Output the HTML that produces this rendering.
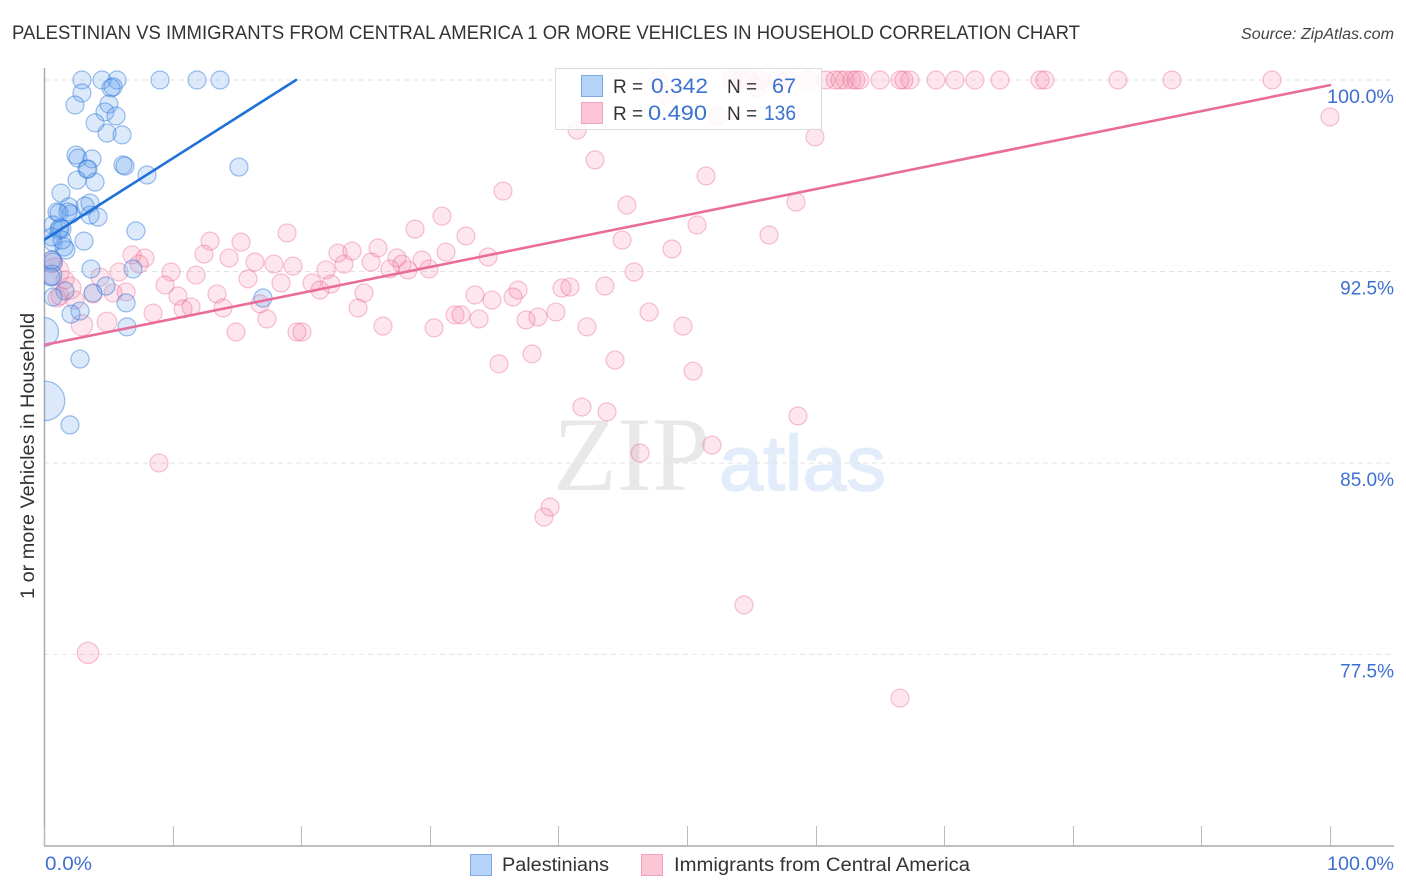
<!DOCTYPE html>
<html lang="en">
<head>
<meta charset="utf-8">
<title>Palestinian vs Immigrants from Central America Correlation Chart</title>
<style>
html,body{margin:0;padding:0;background:#fff;width:1406px;height:892px;overflow:hidden}
svg{display:block}
text{font-family:"Liberation Sans",sans-serif}
</style>
</head>
<body>
<svg id="chart" width="1406" height="892" viewBox="0 0 1406 892" xmlns="http://www.w3.org/2000/svg">
  <defs>
    <clipPath id="plot-clip"><rect x="44" y="60" width="1350" height="786"/></clipPath>
  </defs>
  <text x="12" y="39" font-size="19.5" fill="#333" textLength="1068" lengthAdjust="spacingAndGlyphs">PALESTINIAN VS IMMIGRANTS FROM CENTRAL AMERICA 1 OR MORE VEHICLES IN HOUSEHOLD CORRELATION CHART</text>
  <text x="1241" y="39" font-size="15.5" font-style="italic" fill="#444" textLength="153" lengthAdjust="spacingAndGlyphs">Source: ZipAtlas.com</text>

  <g id="watermark">
    <text x="553" y="490" font-size="106" fill="#e8e8e8" style="font-family:'Liberation Serif',serif" textLength="157" lengthAdjust="spacingAndGlyphs">ZIP</text>
    <text x="719" y="490" font-size="78" fill="#e3ecfa" stroke="#e3ecfa" stroke-width="1.5" style="font-family:'Liberation Sans',sans-serif" textLength="167" lengthAdjust="spacingAndGlyphs">atlas</text>
  </g>
  <g id="grid"></g>
  <g id="axes"></g>
  <g id="marks" clip-path="url(#plot-clip)"></g>

  <g>
    <rect x="555.5" y="68.5" width="266" height="61" fill="#fff" fill-opacity="0.84" stroke="#dcdcdc" stroke-width="1"/>
    <rect x="581.5" y="75.5" width="21" height="21" fill="#b5d2f8" stroke="#7fa9e3"/>
    <rect x="581.5" y="102.5" width="21" height="21" fill="#fcc6d6" stroke="#f2a3bb"/>
    <text x="613" y="93" font-size="19" fill="#333">R =</text>
    <text x="651" y="93" font-size="21" fill="#3a72d0" textLength="57" lengthAdjust="spacingAndGlyphs">0.342</text>
    <text x="727" y="93" font-size="19" fill="#333">N =</text>
    <text x="772" y="93" font-size="21" fill="#3a72d0" textLength="24" lengthAdjust="spacingAndGlyphs">67</text>
    <text x="613" y="120" font-size="19" fill="#333">R =</text>
    <text x="648" y="120" font-size="21" fill="#3a72d0" textLength="59" lengthAdjust="spacingAndGlyphs">0.490</text>
    <text x="727" y="120" font-size="19" fill="#333">N =</text>
    <text x="764" y="120" font-size="21" fill="#3a72d0" textLength="32" lengthAdjust="spacingAndGlyphs">136</text>
  </g>

  <text transform="translate(34,456) rotate(-90)" text-anchor="middle" font-size="19" fill="#333" textLength="286" lengthAdjust="spacingAndGlyphs">1 or more Vehicles in Household</text>

  <g>
    <rect x="470.5" y="854.5" width="21" height="21" fill="#b5d2f8" stroke="#7fa9e3"/>
    <text x="502" y="871" font-size="19" fill="#333" textLength="107" lengthAdjust="spacingAndGlyphs">Palestinians</text>
    <rect x="641.5" y="854.5" width="21" height="21" fill="#fcc6d6" stroke="#f2a3bb"/>
    <text x="674" y="871" font-size="19" fill="#333" textLength="296" lengthAdjust="spacingAndGlyphs">Immigrants from Central America</text>
  </g>
</svg>
<script>
// ---- chart data (percent values) ----
const palestinianX = [2.95,4.51,5.68,9.02,11.90,13.69,5.37,5.21,2.95,2.41,5.05,4.74,5.60,3.97,4.90,6.07,2.49,2.64,3.73,3.34,3.42,6.14,6.30,2.57,3.97,8.01,15.16,1.32,3.58,3.19,1.94,1.01,1.17,2.10,1.87,3.58,4.20,0.70,1.17,1.40,7.15,0.70,1.56,1.71,3.11,0.70,0.62,0.62,0.54,3.65,6.92,1.63,3.81,4.82,0.70,6.38,2.80,2.10,6.45,17.03,0.00,0.08,2.80,2.02,0.62,1.24,1.40];
const palestinianY = [100,100,100,100,100,100,99.73,99.69,99.49,99.02,99.06,98.75,98.59,98.32,97.92,97.85,97.06,96.94,96.91,96.51,96.51,96.67,96.63,96.08,96.00,96.28,96.59,95.57,95.18,95.06,95.03,94.83,94.79,94.75,94.83,94.71,94.63,94.32,94.12,94.16,94.09,93.65,93.46,93.34,93.69,92.87,92.95,92.36,92.28,92.60,92.60,91.74,91.66,91.93,91.50,91.27,90.95,90.83,90.33,91.46,90.13,87.43,89.07,86.49,93.85,94.20,93.73];
const palestinianWeight = [1,1,1,1,1,1,1,1,1,1,1,1,1,1,1,1,1,1,1,1,1,1,1,1,1,1,1,1,1,1,1,1,1,1,1,1,1,1,1,1,1,1,1,1,1,1,1,1.2,1,1,1,1,1,1,1,1,1,1,1,1,2.6,4.8,1,1,1,1,1];

const immigrantX = [47.75,53.50,54.12,54.74,55.68,57.08,57.78,59.41,60.81,61.51,61.90,62.29,62.83,63.14,63.45,65.01,66.56,66.87,67.34,69.36,70.84,72.39,74.34,77.45,77.84,83.51,87.71,95.49,48.37,55.52,52.41,41.45,59.95,100,42.85,51.48,35.69,45.33,58.48,30.95,28.85,18.90,50.78,56.38,44.95,32.81,12.91,15.32,48.83,6.84,7.85,12.44,14.39,22.86,23.95,25.97,27.45,29.39,31.26,34.53,23.33,25.43,16.41,17.88,19.36,7.39,5.83,9.88,11.82,21.93,29.94,28.30,27.84,26.90,45.88,36.86,15.86,18.43,20.84,21.46,22.32,9.41,43.62,40.28,40.90,24.88,33.51,36.47,34.84,10.42,13.45,6.38,5.37,3.81,4.35,0.86,2.02,2.41,1.01,16.80,11.43,10.81,13.92,24.42,8.48,31.96,32.43,33.83,37.48,38.41,39.81,47.05,17.34,26.36,30.33,42.22,49.69,14.93,19.67,20.06,2.95,4.90,37.95,44.40,35.38,50.47,41.83,43.78,58.63,51.94,46.35,8.94,39.35,38.88,54.43,3.42,66.56,0.62,1.24,1.63];
const immigrantY = [100,100,100,100,100,100,100,100,100,100,100,100,100,100,100,100,100,100,100,100,100,100,100,100,100,100,100,100,99.41,99.69,98.59,98.04,97.77,98.55,96.87,96.24,95.65,95.10,95.22,94.67,94.16,94.01,94.32,93.93,93.73,93.89,93.69,93.65,93.38,93.15,93.03,93.18,93.03,93.22,93.30,93.42,93.03,92.95,93.26,93.07,92.79,92.87,92.87,92.79,92.71,92.79,92.48,92.48,92.36,92.56,92.60,92.56,92.79,92.60,92.48,91.77,92.21,92.05,92.05,91.77,92.01,91.97,91.93,91.85,91.89,91.66,91.58,91.50,91.38,91.54,91.62,91.70,91.66,91.62,92.28,92.48,91.85,91.38,91.46,91.23,91.11,91.03,91.07,91.07,90.87,90.80,90.80,90.64,90.60,90.72,90.91,90.91,90.64,90.36,90.29,90.33,90.36,90.13,90.13,90.13,90.40,90.52,89.27,89.03,88.88,88.60,87.19,87.00,86.84,85.70,85.39,85.00,83.27,82.88,79.44,77.56,75.79,92.87,91.54,92.17];
const immigrantWeight = [1,1,1,1,1,1,1,1,1,1,1,1,1,1,1,1,1,1,1,1,1,1,1,1,1,1,1,1,1,1,1,1,1,1,1,1,1,1,1,1,1,1,1,1,1,1,1,1,1,1,1,1,1,1,1,1,1,1,1,1,1,1,1,1,1,1,1,1,1,1,1,1,1,1,1,1,1,1,1,1,1,1,1,1,1,1,1,1,1,1,1,1,1,1,1,2.4,1.5,1,1,1,1,1,1,1,1,1,1,1,1,1,1,1,1,1,1,1,1,1,1,1,1.4,1.2,1,1,1,1,1,1,1,1,1,1,1,1,1,1.4,1,1.4,1,1];

const palestinianTrendX = [0, 19.6];
const palestinianTrendY = [93.73, 100];
const immigrantTrendX = [0, 100];
const immigrantTrendY = [89.62, 99.80];

const yTicks = [100, 92.5, 85, 77.5];
const yTickLabels = ["100.0%", "92.5%", "85.0%", "77.5%"];
const xTicks = [0, 10, 20, 30, 40, 50, 60, 70, 80, 90, 100];
const xEndTicks = [0, 100];
const xEndLabels = ["0.0%", "100.0%"];

// ---- axis functions ----
const X0 = 44, X100 = 1330, Y100 = 80, PX_PER_PCT_Y = 25.53;
function sx(v){ return X0 + v * (X100 - X0) / 100; }
function sy(v){ return Y100 + (100 - v) * PX_PER_PCT_Y; }

const NS = "http://www.w3.org/2000/svg";
function make(tag, attrs, parent){
  const el = document.createElementNS(NS, tag);
  for (const k in attrs) el.setAttribute(k, attrs[k]);
  parent.appendChild(el);
  return el;
}
const gridG = document.getElementById("grid");
const axesG = document.getElementById("axes");
const marksG = document.getElementById("marks");

yTicks.forEach(function(v, i){
  const g = make("line", {x1:X0, x2:1394, y1:sy(v), y2:sy(v), stroke:"#e2e2e2", "stroke-width":1, "stroke-dasharray":"5 4"}, gridG);
  
  
  const t = make("text", {x:1394, y:sy(v)+23, "text-anchor":"end", "font-size":19, fill:"#3f6fd0"}, axesG);
  t.textContent = yTickLabels[i];
  if (yTickLabels[i].length > 5) {
    t.setAttribute("textLength", 67);
    t.setAttribute("lengthAdjust", "spacingAndGlyphs");
  }
  
  
});

const leftAxis = make("line", {x1:44.5, x2:44.5, y1:68, y2:846, stroke:"#aaa", "stroke-width":1.5}, axesG);


const bottomAxis = make("line", {x1:44, x2:1394, y1:846, y2:846, stroke:"#aaa", "stroke-width":1.5}, axesG);



xTicks.forEach(function(v){
  const px = Math.round(sx(v)) + 0.5;
  const tk = make("line", {x1:px, x2:px, y1:826, y2:846, stroke:"#bbb", "stroke-width":1}, axesG);
  
  
});

xEndTicks.forEach(function(v, i){
  const anchorX = v === 0 ? sx(v) + 1 : 1394;
  const t = make("text", {x:anchorX, y:870, "text-anchor": v === 0 ? "start" : "end", "font-size":19, fill:"#3f6fd0", textLength: v === 0 ? 47 : 67, lengthAdjust:"spacingAndGlyphs"}, axesG);
  t.textContent = xEndLabels[i];
  
  
});

const BASE_R = 9;
function drawPoints(xs, ys, ws, fill, stroke, name){
  xs.forEach(function(x, i){
    const c = make("circle", {cx:sx(x), cy:sy(ys[i]), r:BASE_R*Math.sqrt(ws[i]), fill:fill, stroke:stroke, "stroke-width":1.2}, marksG);
    
    
  });
}
function drawTrend(xs, ys, color, name){
  const l = make("line", {x1:sx(xs[0]), y1:sy(ys[0]), x2:sx(xs[1]), y2:sy(ys[1]), stroke:color, "stroke-width":2.6, "stroke-linecap":"round"}, marksG);
  
  
}
drawPoints(immigrantX, immigrantY, immigrantWeight, "rgba(244,130,165,0.2)", "rgba(232,90,135,0.36)", "immigrant-point");
drawPoints(palestinianX, palestinianY, palestinianWeight, "rgba(100,160,238,0.23)", "rgba(40,115,215,0.46)", "palestinian-point");
drawTrend(palestinianTrendX, palestinianTrendY, "#1f70d8", "palestinian-trend-line");
drawTrend(immigrantTrendX, immigrantTrendY, "#e96c9b", "immigrant-trend-line");
</script>
</body>
</html>
